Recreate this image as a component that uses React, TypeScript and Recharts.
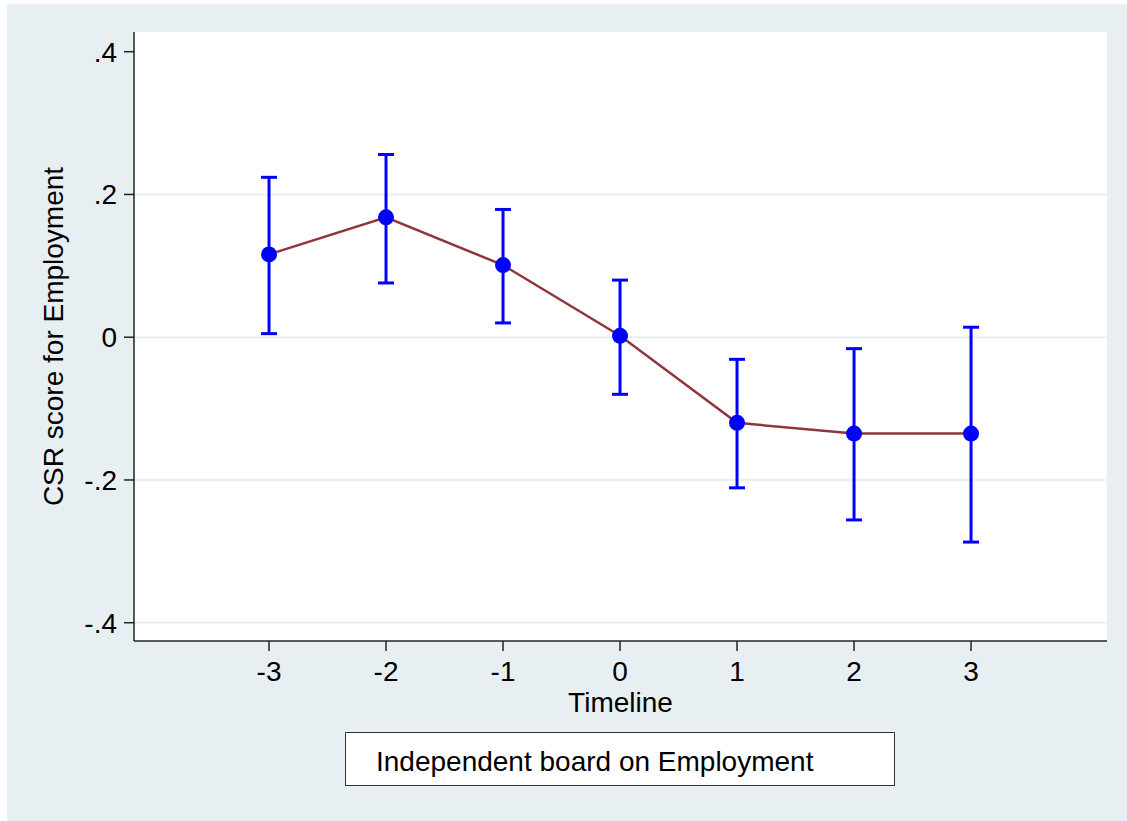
import React from "react";
import {
  ComposedChart,
  Line,
  ErrorBar,
  XAxis,
  YAxis,
  CartesianGrid,
  Legend,
  Label,
} from "recharts";

// ---- data ----
const timeline = [-3, -2, -1, 0, 1, 2, 3];
const estimates = [0.116, 0.168, 0.101, 0.002, -0.12, -0.135, -0.135];
const ciLower = [0.005, 0.076, 0.02, -0.08, -0.211, -0.256, -0.287];
const ciUpper = [0.224, 0.256, 0.179, 0.08, -0.031, -0.016, 0.014];

const xTicks = [-3, -2, -1, 0, 1, 2, 3];
const yTicks = [-0.4, -0.2, 0, 0.2, 0.4];
const yTickLabels = ["-.4", "-.2", "0", ".2", ".4"];
const gridValues = [-0.4, -0.2, 0, 0.2];

const seriesName = "Independent board on Employment";
const xTitle = "Timeline";
const yTitle = "CSR score for Employment";

const data = timeline.map((t, i) => ({
  t,
  est: estimates[i],
  err: [estimates[i] - ciLower[i], ciUpper[i] - estimates[i]],
}));

const FONT = "'Liberation Sans', Arial, Helvetica, sans-serif";
const FS = 28;

const yFmt = (v: number) => {
  const idx = yTicks.findIndex((y) => Math.abs(y - v) < 1e-9);
  return idx >= 0 ? yTickLabels[idx] : String(v);
};

const XTitle = (props: any) => {
  const vb = props.viewBox || {};
  return (
    <text
      x={vb.x + vb.width / 2}
      y={vb.y + 71}
      textAnchor="middle"
      fontFamily={FONT}
      fontSize={FS}
      fill="#000"
    >
      {xTitle}
    </text>
  );
};

const YTitle = (props: any) => {
  const vb = props.viewBox || {};
  const cx = 56;
  const cy = vb.y + vb.height / 2;
  return (
    <text
      x={cx}
      y={cy}
      transform={`rotate(-90, ${cx}, ${cy})`}
      textAnchor="middle"
      fontFamily={FONT}
      fontSize={FS}
      fill="#000"
    >
      {yTitle}
    </text>
  );
};

const LegendBox = (props: any) => {
  const p = props.payload && props.payload[0];
  return (
    <div
      style={{
        boxSizing: "border-box",
        width: 550,
        height: 54,
        border: "1.5px solid #333",
        background: "#fff",
        fontFamily: FONT,
        fontSize: FS,
        color: "#000",
        paddingLeft: 30,
        lineHeight: "58px",
        whiteSpace: "nowrap",
        overflow: "hidden",
        textAlign: "left",
      }}
    >
      {p ? p.value : seriesName}
    </div>
  );
};

export default function App() {
  return (
    <div
      style={{
        position: "absolute",
        left: 0,
        top: 0,
        width: 1127,
        height: 821,
        background: "#ffffff",
      }}
    >
      <div
        style={{
          position: "absolute",
          left: 7,
          top: 4,
          width: 1120,
          height: 817,
          background: "#e8eff2",
        }}
      >
        <ComposedChart
          width={1120}
          height={817}
          data={data}
          margin={{ top: 28, right: 20, left: 0, bottom: 80 }}
        >
          <CartesianGrid
            vertical={false}
            horizontalValues={gridValues}
            stroke="#e8eff2"
            strokeWidth={2}
            fill="#ffffff"
            fillOpacity={1}
          />
          <XAxis
            dataKey="t"
            type="number"
            domain={[-4.154, 4.162]}
            allowDataOverflow
            ticks={xTicks}
            interval={0}
            height={100}
            tickSize={10}
            tickMargin={10}
            axisLine={{ stroke: "#222", strokeWidth: 1.5 }}
            tickLine={{ stroke: "#222", strokeWidth: 1.5 }}
            tick={{ fill: "#000", fontFamily: FONT, fontSize: FS }}
          >
            <Label content={<XTitle />} />
          </XAxis>
          <YAxis
            type="number"
            domain={[-0.4256, 0.4276]}
            allowDataOverflow
            ticks={yTicks}
            interval={0}
            width={127}
            tickSize={10}
            tickMargin={7}
            tickFormatter={yFmt}
            axisLine={{ stroke: "#222", strokeWidth: 1.5 }}
            tickLine={{ stroke: "#222", strokeWidth: 1.5 }}
            tick={{ fill: "#000", fontFamily: FONT, fontSize: FS }}
          >
            <Label content={<YTitle />} />
          </YAxis>
          <Legend
            verticalAlign="middle"
            align="center"
            content={<LegendBox />}
            wrapperStyle={{ left: 338, top: 728, width: 550, height: 54 }}
          />
          <Line
            type="linear"
            dataKey="est"
            name={seriesName}
            stroke="#90353b"
            strokeWidth={2.5}
            dot={{ r: 8, fill: "#0000ff", stroke: "#0000ff", strokeWidth: 0 }}
            activeDot={false}
            isAnimationActive={false}
          >
            <ErrorBar
              dataKey="err"
              direction="y"
              width={8}
              stroke="#0000ff"
              strokeWidth={3}
              isAnimationActive={false}
            />
          </Line>
        </ComposedChart>
      </div>
    </div>
  );
}
